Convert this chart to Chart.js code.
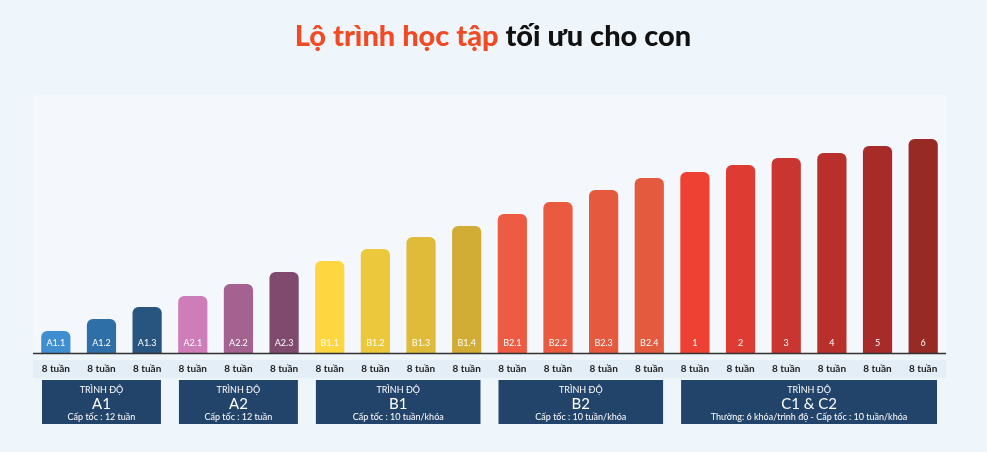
<!DOCTYPE html>
<html><head><meta charset="utf-8">
<script src="https://cdn.jsdelivr.net/npm/chart.js@4"></script>
<style>html,body{margin:0;padding:0;background:#eef5fb;}#w{width:987px;height:452px;position:relative}</style>
</head><body><div id="w"><canvas id="c"></canvas></div>
<script>
const categories=["A1.1","A1.2","A1.3","A2.1","A2.2","A2.3","B1.1","B1.2","B1.3","B1.4","B2.1","B2.2","B2.3","B2.4","1","2","3","4","5","6"];
const values=[22,34,46,57,69,81,92,104,116,127,139,151,163,175,181,188,195,200,207,214];
const durations=categories.map(()=> "8 tuần");
const colors=["#3f8fd0","#2f6fa8","#27557f","#cf7db8","#a3628f","#7f4a6e","#fdd640","#ecc83c","#e0bb3a","#d1ad36","#ec5b42","#e95a40","#e55a3f","#e35a3e","#ee4133","#de3b32","#c93530","#b92f2c","#a72b29","#972a24"];
const groups=[{from:0,to:2,title:"A1",sub:"Cấp tốc : 12 tuần"},{from:3,to:5,title:"A2",sub:"Cấp tốc : 12 tuần"},{from:6,to:9,title:"B1",sub:"Cấp tốc : 10 tuần/khóa"},{from:10,to:13,title:"B2",sub:"Cấp tốc : 10 tuần/khóa"},{from:14,to:19,title:"C1 & C2",sub:"Thường: 6 khóa/trình độ - Cấp tốc : 10 tuần/khóa"}];
const F="Lato, 'Noto Sans', sans-serif";
const deco={id:'deco',
beforeDatasetsDraw(ch){const c=ch.ctx,a=ch.chartArea;c.save();c.fillStyle='#f4f8fc';c.fillRect(a.left,95,a.right-a.left,a.bottom-95);c.restore();},
afterDatasetsDraw(ch){
 const c=ch.ctx,x=ch.scales.x,a=ch.chartArea;c.save();
 c.font="900 29px "+F;c.textBaseline='middle';
 const t1="Lộ trình học tập ",t2="tối ưu cho con";
 const w1=c.measureText(t1).width,w2=c.measureText(t2).width;let sx=493-(w1+w2)/2;
 c.textAlign='left';c.fillStyle='#f24a24';c.fillText(t1,sx,37);c.fillStyle='#111';c.fillText(t2,sx+w1,37);
 c.strokeStyle='#333';c.lineWidth=1.5;c.beginPath();c.moveTo(a.left,a.bottom+0.5);c.lineTo(a.right,a.bottom+0.5);c.stroke();
 c.fillStyle='#e4eef7';c.fillRect(a.left,360,a.right-a.left,18);
 c.textAlign='center';
 ch.getDatasetMeta(0).data.forEach((b,i)=>{
  c.fillStyle='#fff';c.font="9px "+F;c.fillText(categories[i],b.x,a.bottom-10);
  c.fillStyle='#222';c.font="bold 10px "+F;c.fillText(durations[i],b.x,369);
 });
 const half=x.width/categories.length/2;
 groups.forEach(g=>{const l=x.getPixelForValue(g.from)-half+9,r=x.getPixelForValue(g.to)+half-9;
  c.fillStyle='#22446b';c.fillRect(l,380,r-l,44);c.fillStyle='#fff';const m=(l+r)/2;
  c.font="9px "+F;c.fillText("TRÌNH ĐỘ",m,390);c.font="15px "+F;c.fillText(g.title,m,404);c.font="9px "+F;c.fillText(g.sub,m,417);});
 c.restore();}};
new Chart(document.getElementById('c'),{type:'bar',
data:{labels:categories,datasets:[{data:values,backgroundColor:colors,borderRadius:{topLeft:6,topRight:6},borderSkipped:'bottom',categoryPercentage:1,barPercentage:0.64}]},
options:{responsive:true,maintainAspectRatio:false,animation:false,
layout:{padding:{top:60,bottom:99,left:33,right:41}},
plugins:{legend:{display:false},tooltip:{enabled:false}},
scales:{x:{display:false},y:{display:false,min:0,max:293}}},
plugins:[deco]});
</script></body></html>
